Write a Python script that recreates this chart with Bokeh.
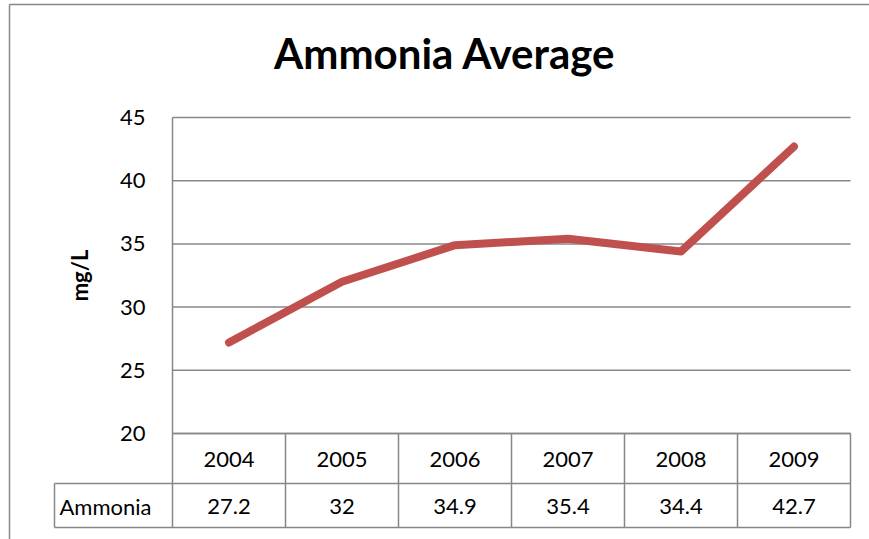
from bokeh.plotting import figure
from bokeh.models import Range1d, FixedTicker, Label, LinearAxis
from bokeh.core.properties import value
from bokeh.embed import file_html
from bokeh.resources import INLINE

# ---- data ----
chart_title = "Ammonia Average"
y_label = "mg/L"
series_name = "Ammonia"
years = ["2004", "2005", "2006", "2007", "2008", "2009"]
ammonia = [27.2, 32, 34.9, 35.4, 34.4, 42.7]
y_ticks = [20, 25, 30, 35, 40, 45]

# ---- layout constants (page pixels) ----
W, H = 869, 539
PL, PR, PT, PB = 172, 850, 117, 433      # plot area
COL_W = (PR - PL) / len(years)
Y_MIN, Y_MAX = 20, 45
PX_PER_Y = (PB - PT) / (Y_MAX - Y_MIN)
ROW1_B, ROW2_B = 483, 527                # table row bottoms
NAME_L = 54                              # left edge of series-name cell
FONT = "Lato"
GRID = "#878787"
RED = "#C0504D"
FS = "22px"


def X(px):
    return (px - PL) / COL_W


def Y(py):
    return Y_MIN + (PB - py) / PX_PER_Y


p = figure(width=W, height=H,
           x_range=Range1d(X(0), X(W)), y_range=Range1d(Y(H), Y(0)),
           x_axis_type=None, y_axis_type=None,
           output_backend="svg", toolbar_location=None,
           min_border=0)
p.outline_line_color = None
p.background_fill_color = "white"
p.border_fill_color = "white"

n = len(years)

# horizontal gridlines (plot area only)
p.segment(x0=[0] * len(y_ticks), x1=[n] * len(y_ticks), y0=y_ticks, y1=y_ticks,
          line_color=GRID, line_width=1.5)

# y axis placed at the left edge of the plot area
yaxis = LinearAxis(fixed_location=0, ticker=FixedTicker(ticks=y_ticks),
                   bounds=(Y_MIN, Y_MAX))
yaxis.axis_label = y_label
yaxis.axis_label_text_font = FONT
yaxis.axis_label_text_font_style = "bold"
yaxis.axis_label_text_font_size = FS
yaxis.axis_label_text_color = "black"
yaxis.axis_label_standoff = 24
yaxis.major_label_text_font = FONT
yaxis.major_label_text_font_size = FS
yaxis.major_label_text_color = "black"
yaxis.major_label_standoff = 27
yaxis.major_tick_out = 0
yaxis.major_tick_in = 0
yaxis.minor_tick_out = 0
yaxis.minor_tick_in = 0
yaxis.axis_line_color = GRID
yaxis.axis_line_width = 1.5
p.add_layout(yaxis, "left")

# data line
xs = [i + 0.5 for i in range(n)]
p.line(xs, ammonia, line_color=RED, line_width=8,
       line_cap="round", line_join="round")

# data table grid
y_top, y_mid, y_bot = Y(PB), Y(ROW1_B), Y(ROW2_B)
h_x0 = [0, X(NAME_L), X(NAME_L)]
h_x1 = [n, n, n]
h_y = [y_top, y_mid, y_bot]
p.segment(x0=h_x0, x1=h_x1, y0=h_y, y1=h_y, line_color=GRID, line_width=1.5)
v_x = list(range(n + 1)) + [X(NAME_L)]
v_y0 = [y_top] * (n + 1) + [y_mid]
v_y1 = [y_bot] * (n + 2)
p.segment(x0=v_x, x1=v_x, y0=v_y0, y1=v_y1, line_color=GRID, line_width=1.5)

# table texts
p.text(x=xs, y=[Y(459)] * n, text=years, text_align="center",
       text_baseline="alphabetic", text_font=value(FONT), text_font_size=FS,
       text_color="black")
p.text(x=xs, y=[Y(506)] * n, text=[f"{v:g}" for v in ammonia],
       text_align="center", text_baseline="alphabetic", text_font=value(FONT),
       text_font_size=FS, text_color="black")
p.text(x=[X(59)], y=[Y(506)], text=[series_name], text_align="left",
       text_baseline="alphabetic", text_font=value(FONT), text_font_size=FS,
       text_color="black")

# outer chart border (left and top edges visible)
p.segment(x0=[X(9), X(9)], x1=[X(9), X(W + 5)], y0=[Y(4), Y(4)],
          y1=[Y(H + 5), Y(4)], line_color=GRID, line_width=1.5)

# title
p.add_layout(Label(x=X(444.5), y=Y(52.5), text=chart_title,
                   text_align="center", text_baseline="alphabetic",
                   text_font=FONT, text_font_style="bold", text_font_size="42px",
                   text_color="black"))

open("out.html", "w").write(file_html(p, INLINE))
